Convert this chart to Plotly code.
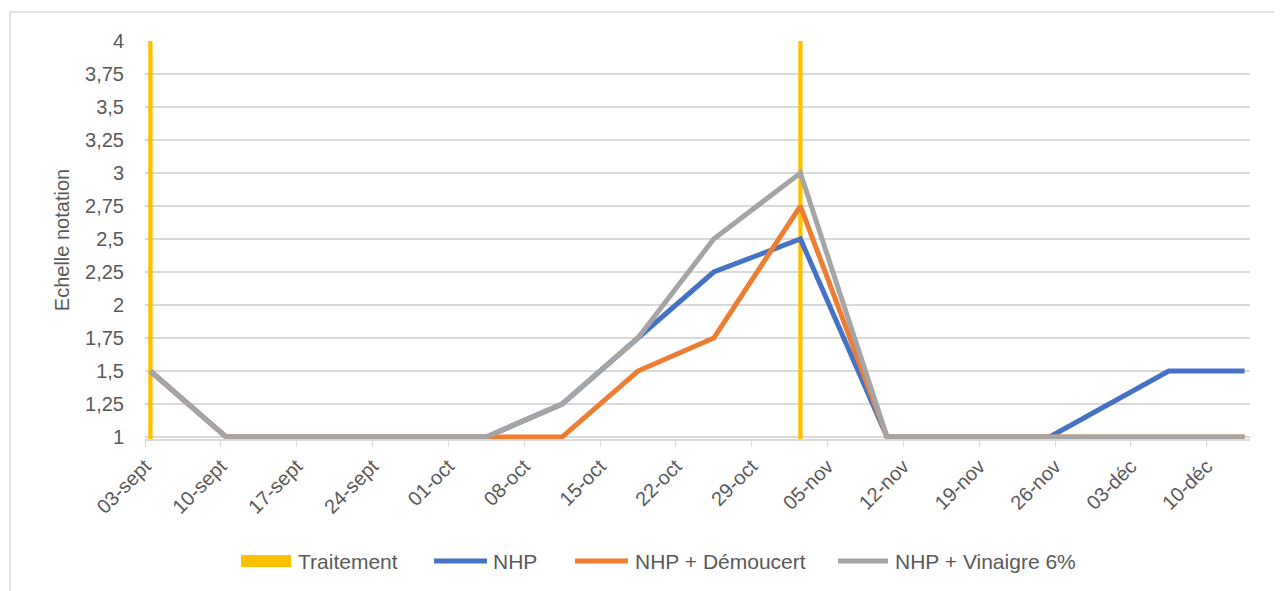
import pandas as pd
import plotly.graph_objects as go

# Observation dates and scores (Echelle notation)
dates = ["2019-09-03", "2019-09-10", "2019-10-04", "2019-10-11", "2019-10-18",
         "2019-10-25", "2019-11-02", "2019-11-10", "2019-11-25", "2019-12-06",
         "2019-12-13"]
nhp = [1.5, 1, 1, 1.25, 1.75, 2.25, 2.5, 1, 1, 1.5, 1.5]
nhp_demoucert = [1.5, 1, 1, 1, 1.5, 1.75, 2.75, 1, 1, 1, 1]
nhp_vinaigre = [1.5, 1, 1, 1.25, 1.75, 2.5, 3, 1, 1, 1, 1]

# Treatment dates
traitement_dates = ["2019-09-03", "2019-11-02"]
traitement_values = [4, 4]

# X tick labels (weekly)
tick_dates = ["2019-09-03", "2019-09-10", "2019-09-17", "2019-09-24", "2019-10-01",
              "2019-10-08", "2019-10-15", "2019-10-22", "2019-10-29", "2019-11-05",
              "2019-11-12", "2019-11-19", "2019-11-26", "2019-12-03", "2019-12-10"]
tick_labels = ["03-sept", "10-sept", "17-sept", "24-sept", "01-oct", "08-oct", "15-oct",
               "22-oct", "29-oct", "05-nov", "12-nov", "19-nov", "26-nov", "03-déc",
               "10-déc"]

# points sit in the middle of their day, like Excel's date axis
half_day = pd.Timedelta(hours=12)
x = pd.to_datetime(dates) + half_day
x_trait = pd.to_datetime(traitement_dates) + half_day

TXT = "#595959"
GRID = "#d9d9d9"
FONT = "Liberation Sans, Arial, sans-serif"
YELLOW = "#FFC000"

fig = go.Figure()

fig.add_trace(go.Bar(
    x=x_trait, y=traitement_values, name="Traitement",
    marker=dict(color=YELLOW, line=dict(width=0)),
    width=0.4 * 86400000,
))

series = [
    ("NHP", nhp, "#4472C4"),
    ("NHP + Démoucert", nhp_demoucert, "#ED7D31"),
    ("NHP + Vinaigre 6%", nhp_vinaigre, "#A5A5A5"),
]
for name, vals, col in series:
    fig.add_trace(go.Scatter(
        x=x, y=vals, name=name, mode="lines",
        line=dict(color=col, width=5),
    ))

# Excel-style legend drawn by hand (plot area: 1105 x 398 px)
def px_x(p):
    return (p - 145) / 1105

def px_y(p):
    return (439 - p) / 398

legend_y = 561
shapes = [dict(
    type="rect", xref="paper", yref="paper",
    x0=-0.1222, x1=1.06, y0=-0.6, y1=1.0729,
    line=dict(color=GRID, width=1.5), layer="below",
)]
annotations = []
# (symbol start, symbol end, text start) in pixels
legend_pos = [(241, 291, 296), (434, 487, 491), (575, 628, 633), (838, 888, 893)]
legend_items = [("Traitement", YELLOW, "rect")] + [(n, c, "line") for n, _, c in series]
for (s0, s1, t0), (name, col, kind) in zip(legend_pos, legend_items):
    if kind == "rect":
        shapes.append(dict(type="rect", xref="paper", yref="paper",
                           x0=px_x(s0), x1=px_x(s1),
                           y0=px_y(legend_y + 6), y1=px_y(legend_y - 6),
                           fillcolor=col, line=dict(width=0)))
    else:
        shapes.append(dict(type="line", xref="paper", yref="paper",
                           x0=px_x(s0), x1=px_x(s1),
                           y0=px_y(legend_y), y1=px_y(legend_y),
                           line=dict(color=col, width=5)))
    annotations.append(dict(text=name, xref="paper", yref="paper",
                            x=px_x(t0), y=px_y(legend_y), xanchor="left",
                            yanchor="middle", showarrow=False,
                            font=dict(size=21, color=TXT)))

# the page body has an 8px margin, so the figure is 8px smaller
fig.update_layout(
    width=1274, height=583,
    margin=dict(l=137, r=32, t=33, b=152),
    paper_bgcolor="white", plot_bgcolor="white",
    font=dict(family=FONT, size=20, color=TXT),
    separators=", ",
    showlegend=False,
    shapes=shapes,
    annotations=annotations,
)

fig.update_xaxes(
    range=["2019-09-03", "2019-12-14"],
    tickvals=pd.to_datetime(tick_dates), ticktext=tick_labels,
    tickangle=-45, showgrid=False,
    showline=True, linecolor=GRID, linewidth=1.5,
    ticks="outside", ticklen=6, tickcolor=GRID,
    tickfont=dict(size=20, color=TXT),
)
fig.update_yaxes(
    range=[0.985, 4.0], dtick=0.25, tick0=1,
    showgrid=True, gridcolor=GRID, gridwidth=1.5, zeroline=False,
    ticklabelstandoff=20,
    tickfont=dict(size=20, color=TXT),
    title=dict(text="Echelle notation", standoff=10, font=dict(size=20, color=TXT)),
)

fig.write_html("out.html")
